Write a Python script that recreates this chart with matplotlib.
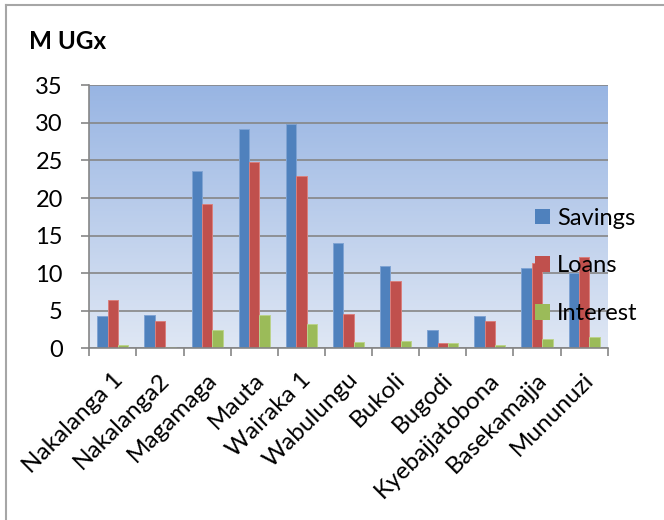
import matplotlib
matplotlib.use("Agg")
import matplotlib.pyplot as plt
import numpy as np
from matplotlib.lines import Line2D
from matplotlib.patches import Patch
from matplotlib.transforms import ScaledTranslation

# --- data (millions UGX) ---
groups = ["Nakalanga 1", "Nakalanga2", "Magamaga", "Mauta", "Wairaka 1", "Wabulungu",
          "Bukoli", "Bugodi", "Kyebajjatobona", "Basekamajja", "Mununuzi"]
savings = [4.3, 4.4, 23.6, 29.2, 29.8, 14.0, 11.0, 2.5, 4.35, 10.75, 10.0]
loans = [6.4, 3.6, 19.2, 24.8, 22.9, 4.6, 8.9, 0.7, 3.6, 11.3, 12.2]
interest = [0.5, 0.2, 2.5, 4.4, 3.2, 0.9, 1.0, 0.75, 0.5, 1.25, 1.55]
series = ["Savings", "Loans", "Interest"]
colors = ["#4F81BD", "#C0504D", "#9BBB59"]
edges = ["#7FA3D3", "#D9807E", "#BBD38C"]
yticks = [0, 5, 10, 15, 20, 25, 30, 35]

plt.rcParams["font.family"] = ["Lato", "DejaVu Sans"]
GRID = "#868686"

fig = plt.figure(figsize=(6.64, 5.2), dpi=100)
ax = fig.add_axes([89.3 / 664, 1 - 348.3 / 520, (607.7 - 89.3) / 664, (348.3 - 85.3) / 520])

n = len(groups)
x = np.arange(n)
ax.set_xlim(-0.5, n - 0.5)
ax.set_ylim(0, 35)

# gradient plot-area fill (darker blue at top)
top = np.array([152, 181, 227]) / 255
bot = np.array([223, 231, 244]) / 255
t = np.linspace(0, 1, 256)[:, None]
grad = (top * (1 - t) + bot * t)[:, None, :]
ax.imshow(grad, extent=[-0.5, n - 0.5, 0, 35], aspect="auto", zorder=0, origin="upper")

w = 0.22
for k, (vals, c, e) in enumerate(zip([savings, loans, interest], colors, edges)):
    ax.bar(x + (k - 1) * w, vals, width=w, color=c, edgecolor=e, linewidth=0.7, zorder=2)

ax.set_yticks(yticks)
ax.grid(axis="y", color=GRID, lw=1.2, zorder=1)
ax.set_axisbelow(True)

for s in ("top", "right"):
    ax.spines[s].set_visible(False)
for s in ("left", "bottom"):
    ax.spines[s].set_color(GRID)
    ax.spines[s].set_linewidth(1.2)
    ax.spines[s].set_zorder(3)

ax.tick_params(axis="y", length=6, width=1.2, color=GRID, pad=13, labelsize=17)
ax.set_xticks(x)
ax.set_xticks(np.arange(-0.5, n, 1), minor=True)
ax.tick_params(axis="x", which="minor", length=5.5, width=1.2, color=GRID)
ax.tick_params(axis="x", which="major", length=0, pad=23.5, labelsize=17.5)
ax.set_xticklabels(groups, rotation=45, ha="right", va="baseline", rotation_mode="anchor")
for lab in ax.get_xticklabels():
    lab.set_transform(lab.get_transform() + ScaledTranslation(0.11, 0, fig.dpi_scale_trans))

handles = [Patch(facecolor=c, edgecolor="none") for c in colors]
ax.legend(handles, series, loc="center left", bbox_to_anchor=(535 / 664, 1 - 266 / 520),
          bbox_transform=fig.transFigure, frameon=False, fontsize=17, borderpad=0,
          borderaxespad=0, handlelength=0.64, handleheight=0.64, handletextpad=0.3,
          labelspacing=1.13)

fig.text(29 / 664, 1 - 49 / 520, "M UGx", fontsize=17.5, fontweight="bold", va="baseline")

# chart frame (only top and left edges fall inside the crop)
fig.add_artist(Line2D([6 / 664, 6 / 664], [0, 1 - 5 / 520], transform=fig.transFigure,
                      color="#A6A6A6", lw=1.5))
fig.add_artist(Line2D([6 / 664, 1], [1 - 5 / 520, 1 - 5 / 520], transform=fig.transFigure,
                      color="#A6A6A6", lw=1.5))

fig.savefig("out.png", dpi=100, facecolor="white")
